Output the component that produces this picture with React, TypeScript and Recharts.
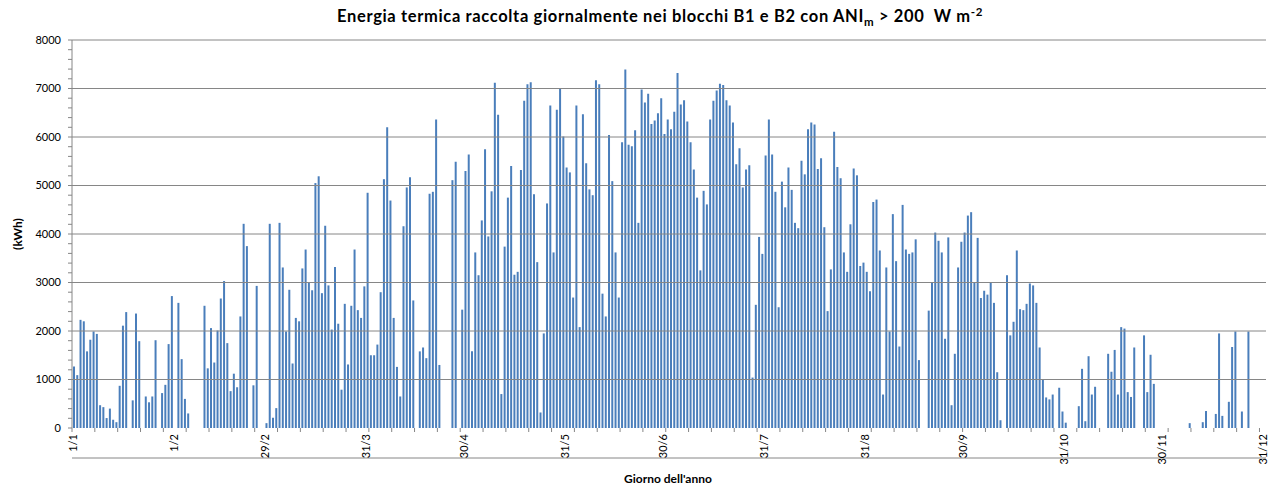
import React from "react";
import { BarChart, Bar, XAxis, YAxis, ReferenceLine } from "recharts";

// Giorni per mese (anno bisestile)
const monthLengths = [31, 29, 31, 30, 31, 30, 31, 31, 30, 31, 30, 31];

// Energia raccolta giornaliera (kWh), per mese
const gennaio = [1270, 1090, 2230, 2200, 1580, 1820, 1990, 1940, 470, 430, 205, 400, 170, 120, 870, 2110, 2390, 0, 570, 2360, 1790, 0, 650, 530, 650, 1810, 0, 720, 890, 1730, 2720];
const febbraio = [0, 2580, 1420, 600, 300, 0, 0, 0, 0, 2520, 1230, 2060, 1350, 2010, 2670, 3030, 1750, 760, 1120, 840, 2300, 4210, 3750, 0, 880, 2930, 0, 0, 100];
const marzo = [4210, 210, 410, 4230, 3310, 1990, 2850, 1330, 2270, 2200, 3290, 3680, 3000, 2840, 5050, 5190, 2780, 4170, 2940, 2030, 3320, 2150, 790, 2560, 1310, 2520, 3680, 2430, 2270, 2920, 4850];
const aprile = [1500, 1500, 1720, 2800, 5130, 6200, 4690, 2270, 1260, 650, 4160, 4960, 5170, 2630, 0, 1580, 1660, 1440, 4830, 4870, 6360, 1300, 0, 0, 0, 5110, 5490, 0, 2440, 5300];
const maggio = [5640, 1580, 3620, 3150, 4280, 5750, 3950, 4880, 7120, 6460, 700, 3740, 4750, 5400, 3160, 3220, 5320, 6750, 7090, 7130, 4820, 3420, 320, 1950, 4630, 6650, 3620, 6560, 7000, 6010, 5370];
const giugno = [5270, 2690, 6650, 2080, 6470, 5460, 4920, 4800, 7170, 7090, 2770, 2300, 6040, 5090, 3620, 2690, 5890, 7390, 5840, 5810, 6140, 4230, 6980, 6710, 6890, 6270, 6340, 6490, 6800, 6060];
const luglio = [6360, 6160, 6520, 7320, 6670, 6760, 6320, 5890, 5330, 4750, 3250, 4890, 4610, 6360, 6750, 6960, 7100, 7070, 6760, 6650, 6300, 5440, 5770, 4960, 5330, 5420, 1040, 2540, 3940, 3590, 5620];
const agosto = [6360, 5640, 4870, 2490, 5080, 4550, 5370, 4910, 4230, 4120, 5510, 5230, 6160, 6300, 6260, 5340, 5560, 4140, 2410, 3270, 6110, 5380, 5150, 3620, 3220, 4200, 5350, 5210, 3340, 3410, 3220];
const settembre = [2820, 4660, 4710, 3660, 690, 3310, 1990, 4410, 3440, 1680, 4600, 3680, 3590, 3620, 3890, 1400, 0, 0, 2420, 3000, 4030, 3860, 3620, 1840, 3930, 470, 1530, 3310, 3840, 4030];
const ottobre = [4380, 4450, 3010, 3920, 2680, 2830, 2750, 3010, 2580, 1150, 160, 0, 3150, 1910, 2190, 3660, 2450, 2430, 2560, 2980, 2940, 2580, 1660, 1000, 630, 590, 690, 0, 830, 340, 110];
const novembre = [0, 0, 0, 450, 1220, 140, 1480, 690, 850, 0, 0, 0, 1530, 1160, 1610, 690, 2080, 2050, 740, 640, 1660, 0, 0, 1910, 740, 1510, 910, 0, 0, 0];
const dicembre = [0, 0, 0, 0, 0, 0, 0, 100, 0, 0, 0, 120, 350, 0, 0, 290, 1950, 250, 0, 540, 1670, 1990, 0, 340, 0, 1990, 0, 0, 0, 0, 0];

const values = [
  ...gennaio, ...febbraio, ...marzo, ...aprile, ...maggio, ...giugno,
  ...luglio, ...agosto, ...settembre, ...ottobre, ...novembre, ...dicembre,
];

const dayLabels: string[] = [];
monthLengths.forEach((len, m) => {
  for (let d = 1; d <= len; d++) dayLabels.push(`${d}/${m + 1}`);
});

const data = values.map((v, i) => ({ day: dayLabels[i], idx: i + 0.5, energia: v }));

// Etichette dell'asse x
const labelDays = [0, 31, 59, 90, 120, 151, 181, 212, 243, 273, 304, 334, 365];
const labelTexts = ["1/1", "1/2", "29/2", "31/3", "30/4", "31/5", "30/6", "31/7", "31/8", "30/9", "31/10", "30/11", "31/12"];
const weekTicks = Array.from({ length: 53 }, (_, i) => i * 7);
const xTicks = Array.from(new Set([...weekTicks, ...labelDays])).sort((a, b) => a - b);

const yMajor = [0, 1000, 2000, 3000, 4000, 5000, 6000, 7000, 8000];
const yMinor = Array.from({ length: 41 }, (_, i) => i * 200);

const GRAY = "#868686";
const FONT = "Lato, 'Open Sans', sans-serif";

const CHART_W = 1271;
const CHART_H = 488;
const XAXIS_H = 60;
const AXIS_Y = CHART_H - XAXIS_H;

const XTick = (props: any) => {
  const { x, payload } = props;
  const v = payload.value;
  const li = labelDays.indexOf(v);
  const ty = AXIS_Y + 6;
  return (
    <g>
      {v % 7 === 0 && <line x1={x} x2={x} y1={AXIS_Y} y2={AXIS_Y + 4} stroke={GRAY} strokeWidth={1} />}
      {li >= 0 && (
        <text
          x={x}
          y={ty}
          transform={`rotate(-90 ${x} ${ty})`}
          textAnchor="end"
          dominantBaseline="central"
          fontSize={11}
          fontFamily={FONT}
          fill="#000"
        >
          {labelTexts[li]}
        </text>
      )}
    </g>
  );
};

const YTick = (props: any) => {
  const { x, y, payload } = props;
  const v = payload.value;
  return (
    <g>
      <line x1={x - 4} x2={x} y1={y} y2={y} stroke={GRAY} strokeWidth={1} />
      {v % 1000 === 0 && (
        <text x={x - 11} y={y} dy="0.35em" textAnchor="end" fontSize={11} fontFamily={FONT} fill="#000">
          {v}
        </text>
      )}
    </g>
  );
};

export default function App() {
  return (
    <div style={{ position: "absolute", left: 0, top: 0, width: CHART_W, height: CHART_H, background: "#fff", fontFamily: FONT }}>
      <BarChart
        width={CHART_W}
        height={CHART_H}
        data={data}
        margin={{ top: 40, right: 5, bottom: 0, left: 0 }}
        barCategoryGap={0}
      >
        <XAxis xAxisId="cat" dataKey="day" hide />
        <XAxis
          xAxisId="num"
          type="number"
          dataKey="idx"
          domain={[0, 366]}
          allowDataOverflow
          ticks={xTicks}
          interval={0}
          height={XAXIS_H}
          tickLine={false}
          tickSize={0}
          tickMargin={0}
          axisLine={{ stroke: GRAY }}
          tick={<XTick />}
        />
        <YAxis
          type="number"
          domain={[0, 8000]}
          ticks={yMinor}
          interval={0}
          width={72}
          tickLine={false}
          tickSize={0}
          tickMargin={0}
          axisLine={{ stroke: GRAY }}
          tick={<YTick />}
        />
        {yMajor.slice(1).map((v) => (
          <ReferenceLine key={v} xAxisId="cat" y={v} stroke={GRAY} strokeWidth={1} />
        ))}
        <Bar xAxisId="cat" dataKey="energia" fill="#4A7EBB" barSize={2} isAnimationActive={false} />
      </BarChart>

      <div
        style={{
          position: "absolute",
          left: 0,
          width: 1320,
          top: 6,
          textAlign: "center",
          fontSize: 16.5,
          letterSpacing: 0.65,
          fontWeight: 700,
          color: "#000",
          whiteSpace: "pre",
          lineHeight: "20px",
        }}
      >
        Energia termica raccolta giornalmente nei blocchi B1 e B2 con ANI<sub style={{ fontSize: 11.5, lineHeight: 0 }}>m</sub>{" > 200  W m"}
        <sup style={{ fontSize: 11.5, lineHeight: 0 }}>-2</sup>
      </div>

      <div
        style={{
          position: "absolute",
          left: 17,
          top: 234,
          transform: "translate(-50%, -50%) rotate(-90deg)",
          fontSize: 12,
          fontWeight: 700,
          whiteSpace: "nowrap",
          color: "#000",
        }}
      >
        (kWh)
      </div>

      <div
        style={{
          position: "absolute",
          left: 668,
          top: 478,
          transform: "translate(-50%, -50%)",
          fontSize: 12,
          fontWeight: 700,
          whiteSpace: "nowrap",
          color: "#000",
        }}
      >
        Giorno dell'anno
      </div>
    </div>
  );
}
